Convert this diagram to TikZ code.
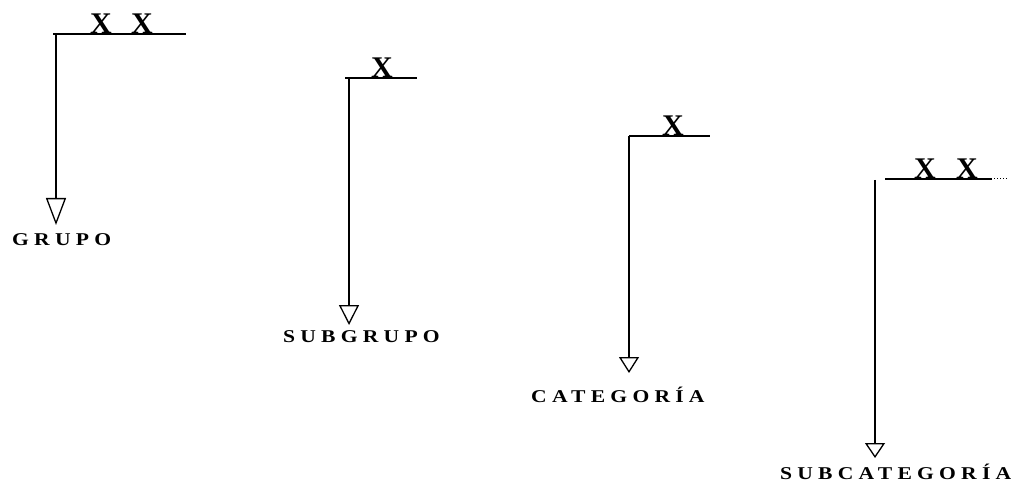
\documentclass[tikz,border=0pt]{standalone}
\usepackage{fontspec}
\setmainfont{Liberation Serif}
\newfontfamily\spacedfont[LetterSpace=29, FakeStretch=1.2]{Liberation Serif}
\usetikzlibrary{arrows.meta}

\begin{document}
\begin{tikzpicture}[
  x=1pt, y=-1pt,
  rule/.style={line width=1.3pt},
  down/.style={line width=1.3pt, -{Triangle[open, width=20pt, length=#1]}},
  digit/.style={font=\fontsize{30}{32}\selectfont\bfseries, inner sep=0pt, anchor=base},
  level/.style={font=\spacedfont\fontsize{18}{20}\selectfont\bfseries, inner sep=0pt,
                text height=12pt, text depth=0pt, anchor=north west}
]
\useasboundingbox (0,0) rectangle (1011,486);

% grupo
\coordinate (c1) at (56,34);
\coordinate (t1) at (56,225);
\draw[rule] (53,34) -- (186,34);
\node[digit] (x11) at (101,34) {X};
\node[digit] (x12) at (142,34) {X};
\draw[down=27pt] (c1) -- (t1);
\node[level] (grupo) at (12,233) {GRUPO};

% subgrupo
\coordinate (c2) at (349,78);
\coordinate (t2) at (349,325);
\draw[rule] (345,78) -- (417,78);
\node[digit] (x21) at (382,78) {X};
\draw[down=20pt] (c2) -- (t2);
\node[level] (subgrupo) at (283,330) {SUBGRUPO};

% categoria
\coordinate (c3) at (629,136);
\coordinate (t3) at (629,373);
\draw[rule] (629,136) -- (710,136);
\node[digit] (x31) at (673,136) {X};
\draw[down=16pt] (c3) -- (t3);
\node[level] (categoria) at (531,390) {CATEGORÍA};

% subcategoria
\coordinate (c4) at (875,180);
\coordinate (t4) at (875,458);
\draw[rule] (885,179) -- (992,179);
\draw[line width=1pt, dotted] (994,179) -- (1009,179);
\node[digit] (x41) at (925,179) {X};
\node[digit] (x42) at (967,179) {X};
\draw[down=15pt] (c4) -- (t4);
\node[level] (subcategoria) at (780,467) {SUBCATEGORÍA};
\end{tikzpicture}
\end{document}
